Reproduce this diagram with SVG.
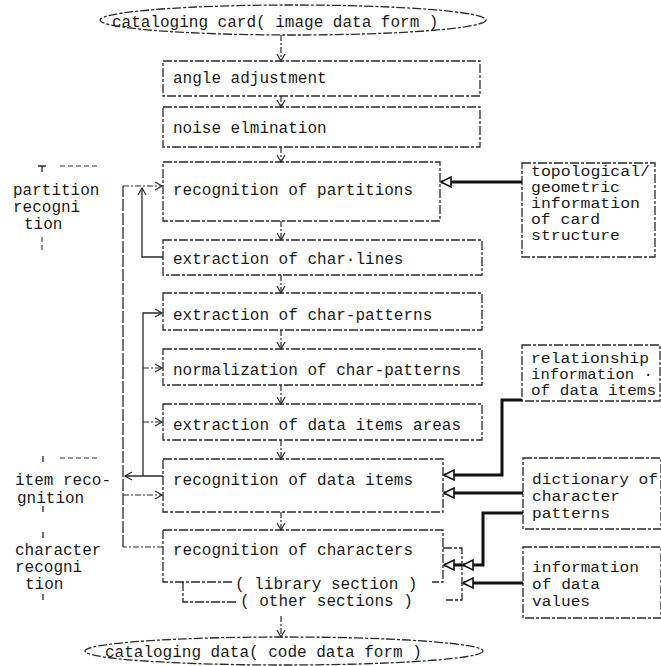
<svg xmlns="http://www.w3.org/2000/svg" width="661" height="666" viewBox="0 0 661 666">
<style>
  .bx { fill: none; stroke: #2a2a2a; stroke-width: 1.3; stroke-dasharray: 9 2 3 2; }
  .t { font-family: "Liberation Mono", "DejaVu Sans Mono", monospace; font-size: 16px; fill: #1a1a1a; }
  .ts { font-family: "Liberation Mono", "DejaVu Sans Mono", monospace; font-size: 14px; fill: #1a1a1a; }
  .dl { fill: none; stroke: #2a2a2a; stroke-width: 1.2; stroke-dasharray: 6 2 2 2; }
  .sl { fill: none; stroke: #2a2a2a; stroke-width: 1.3; }
  .th { fill: none; stroke: #111; stroke-width: 3; }
  .deco { fill: none; stroke: #333; stroke-width: 1.1; stroke-dasharray: 5 3; }
</style>
<defs>
  <marker id="v" markerUnits="userSpaceOnUse" markerWidth="12" markerHeight="12" refX="0" refY="0" orient="auto" overflow="visible">
    <path d="M-7,-4 L0,0 L-7,4" fill="none" stroke="#2a2a2a" stroke-width="1.2"/>
  </marker>
  <marker id="tri" markerUnits="userSpaceOnUse" markerWidth="14" markerHeight="14" refX="0" refY="0" orient="auto" overflow="visible">
    <path d="M0,0 L-10,-5 L-10,5 Z" fill="#fff" stroke="#111" stroke-width="1.6"/>
  </marker>
</defs>

<g id="n-start">
  <ellipse cx="293" cy="20" rx="193" ry="15" class="bx"/>
  <text class="t" x="112" y="27">cataloging card( image data form )</text>
</g>
<g id="n-angle">
  <rect x="163" y="61" width="317" height="35" class="bx"/>
  <text class="t" x="173" y="83">angle adjustment</text>
</g>
<g id="n-noise">
  <rect x="163" y="107" width="317" height="40" class="bx"/>
  <text class="t" x="173" y="133">noise elmination</text>
</g>
<g id="n-partitions">
  <rect x="163" y="162" width="277" height="59" class="bx"/>
  <text class="t" x="173" y="195">recognition of partitions</text>
</g>
<g id="n-charlines">
  <rect x="163" y="240" width="319" height="35" class="bx"/>
  <text class="t" x="173" y="264">extraction of char·lines</text>
</g>
<g id="n-charpatterns">
  <rect x="163" y="293" width="319" height="37" class="bx"/>
  <text class="t" x="173" y="320">extraction of char-patterns</text>
</g>
<g id="n-normalization">
  <rect x="163" y="349" width="319" height="36" class="bx"/>
  <text class="t" x="173" y="375">normalization of char-patterns</text>
</g>
<g id="n-areas">
  <rect x="163" y="404" width="319" height="36" class="bx"/>
  <text class="t" x="173" y="430">extraction of data items areas</text>
</g>
<g id="n-dataitems">
  <rect x="163" y="459" width="280" height="53" class="bx"/>
  <text class="t" x="173" y="485">recognition of data items</text>
</g>
<g id="n-characters">
  <path d="M163,530 H443 V582 H432" class="bx"/>
  <path d="M163,530 V582 H232" class="bx"/>
  <path d="M183,582 V602 H237" class="bx"/>
  <text class="t" x="173" y="555">recognition of characters</text>
  <text class="t" x="235" y="589">( library section )</text>
  <text class="t" x="240" y="606">( other sections )</text>
  <path d="M443,548 H462 V600 H446" class="bx"/>
</g>
<g id="n-end">
  <ellipse cx="284" cy="651" rx="199" ry="14" class="bx"/>
  <text class="t" x="105" y="657">cataloging data( code data form )</text>
</g>

<g id="n-topological">
  <rect x="522" y="163" width="133" height="94" class="bx"/>
  <text class="ts" x="531" y="176" textLength="119" lengthAdjust="spacingAndGlyphs">topological/</text>
  <text class="ts" x="531" y="192" textLength="89" lengthAdjust="spacingAndGlyphs">geometric</text>
  <text class="ts" x="531" y="208" textLength="109" lengthAdjust="spacingAndGlyphs">information</text>
  <text class="ts" x="531" y="224" textLength="69" lengthAdjust="spacingAndGlyphs">of card</text>
  <text class="ts" x="531" y="240" textLength="89" lengthAdjust="spacingAndGlyphs">structure</text>
</g>
<g id="n-relationship">
  <rect x="522" y="345" width="138" height="56" class="bx"/>
  <text class="ts" x="531" y="363" textLength="118" lengthAdjust="spacingAndGlyphs">relationship</text>
  <text class="ts" x="531" y="379" textLength="122" lengthAdjust="spacingAndGlyphs">information ·</text>
  <text class="ts" x="531" y="395" textLength="125" lengthAdjust="spacingAndGlyphs">of data items</text>
</g>
<g id="n-dictionary">
  <rect x="523" y="458" width="138" height="71" class="bx"/>
  <text class="ts" x="532" y="484" textLength="126" lengthAdjust="spacingAndGlyphs">dictionary of</text>
  <text class="ts" x="532" y="501" textLength="88" lengthAdjust="spacingAndGlyphs">character</text>
  <text class="ts" x="532" y="518" textLength="78" lengthAdjust="spacingAndGlyphs">patterns</text>
</g>
<g id="n-values">
  <rect x="523" y="547" width="138" height="71" class="bx"/>
  <text class="ts" x="532" y="572" textLength="107" lengthAdjust="spacingAndGlyphs">information</text>
  <text class="ts" x="532" y="589" textLength="68" lengthAdjust="spacingAndGlyphs">of data</text>
  <text class="ts" x="532" y="606" textLength="58" lengthAdjust="spacingAndGlyphs">values</text>
</g>

<g id="labels">
  <path d="M42,166 V172 M38,166 H46" class="sl" stroke-width="1"/>
  <path d="M60,166 H100" class="deco"/>
  <text class="t" x="13" y="195">partition</text>
  <text class="t" x="13" y="212">recogni</text>
  <text class="t" x="24" y="229">tion</text>
  <path d="M42,237 V253" class="deco"/>

  <path d="M43,456 V462" class="sl" stroke-width="1"/>
  <path d="M60,458 H100" class="deco"/>
  <text class="t" x="15" y="485">item reco-</text>
  <text class="t" x="17" y="503">gnition</text>
  <path d="M43,506 V512" class="sl" stroke-width="1"/>

  <path d="M43,532 V538" class="sl" stroke-width="1"/>
  <text class="t" x="15" y="555">character</text>
  <text class="t" x="15" y="572">recogni</text>
  <text class="t" x="25" y="589">tion</text>
  <path d="M43,594 V600" class="sl" stroke-width="1"/>
</g>

<g id="connectors">
  <!-- main flow -->
  <path d="M281,35 V61" class="dl" marker-end="url(#v)"/>
  <path d="M281,96 V107" class="dl" marker-end="url(#v)"/>
  <path d="M281,147 V162" class="dl" marker-end="url(#v)"/>
  <path d="M281,221 V240" class="dl" marker-end="url(#v)"/>
  <path d="M281,275 V293" class="dl" marker-end="url(#v)"/>
  <path d="M281,330 V349" class="dl" marker-end="url(#v)"/>
  <path d="M281,385 V404" class="dl" marker-end="url(#v)"/>
  <path d="M281,440 V459" class="dl" marker-end="url(#v)"/>
  <path d="M281,512 V530" class="dl" marker-end="url(#v)"/>
  <path d="M281,616 V637" class="dl" marker-end="url(#v)"/>

  <!-- left feedback loops -->
  <path d="M123,547 V186" class="sl" stroke-dasharray="12 2"/>
  <path d="M123,186 H162" class="dl" marker-end="url(#v)"/>
  <path d="M163,257 H142 V188" class="sl" marker-end="url(#v)"/>
  <path d="M163,547 H123" class="dl"/>
  <path d="M163,476 H125" class="sl" marker-end="url(#v)"/>
  <path d="M143,476 V313 H162" class="sl" marker-end="url(#v)"/>
  <path d="M143,368 H162" class="dl" marker-end="url(#v)"/>
  <path d="M143,422 H162" class="dl" marker-end="url(#v)"/>
  <path d="M123,495 H162" class="dl" marker-end="url(#v)"/>

  <!-- thick information inputs -->
  <path d="M522,182 H441" class="th" marker-end="url(#tri)"/>
  <path d="M522,400 H502 V475 H444" class="th" marker-end="url(#tri)"/>
  <path d="M523,493 H444" class="th" marker-end="url(#tri)"/>
  <path d="M523,513 H483 V565 H463" class="th" marker-end="url(#tri)"/>
  <path d="M462,565 H444" class="th" marker-end="url(#tri)"/>
  <path d="M523,583 H463" class="th" marker-end="url(#tri)"/>
</g>
</svg>
